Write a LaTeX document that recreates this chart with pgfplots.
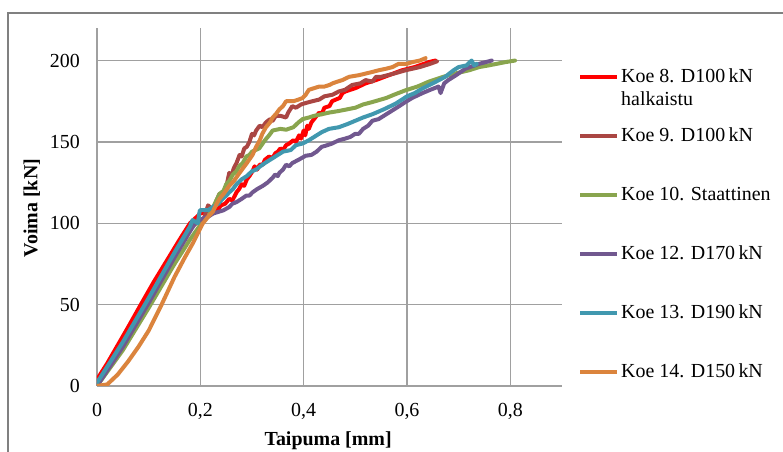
\documentclass[border=0pt]{standalone}
\usepackage{fontspec}
\setmainfont{Liberation Serif}
\usepackage{pgfplots}
\pgfplotsset{compat=1.18}
\definecolor{c8}{RGB}{255,0,0}
\definecolor{c9}{RGB}{170,70,67}
\definecolor{c10}{RGB}{137,165,78}
\definecolor{c12}{RGB}{113,88,143}
\definecolor{c13}{RGB}{65,152,175}
\definecolor{c14}{RGB}{219,132,61}
\definecolor{gridgray}{RGB}{160,160,160}
\definecolor{framegray}{RGB}{128,128,128}

\begin{document}
\begin{tikzpicture}[x=1bp,y=1bp]
\begin{axis}[
    at={(0,0)}, anchor=south west,
    scale only axis,
    width=465bp, height=358bp,
    xmin=0, xmax=0.9, ymin=0, ymax=220,
    xtick={0,0.2,0.4,0.6,0.8},
    ytick={0,50,100,150,200},
    axis lines*=left,
    axis line style={-, draw=gridgray, line width=1.2bp},
    grid=major,
    major grid style={draw=gridgray, line width=1.2bp},
    major tick length=0pt,
    font=\fontsize{20}{24}\selectfont,
    /pgf/number format/assume math mode=true,
    /pgf/number format/use comma,
    /pgf/number format/fixed,
    xticklabel style={anchor=north, inner sep=0pt, yshift=-17bp},
    yticklabel style={anchor=east, inner sep=0pt, xshift=-17bp},
    xlabel={\bfseries Taipuma [mm]},
    ylabel={\bfseries Voima [kN]},
    xlabel style={at={(axis description cs:0.497,-0.154)}, anchor=center},
    ylabel style={at={(axis description cs:-0.14,0.497)}, anchor=center},
    every axis plot/.append style={line width=4bp, line join=round, line cap=round},
    legend cell align=left,
    legend image code/.code={\draw[#1, line width=4bp, line cap=butt] (0bp,0bp) -- (37bp,0bp);},
    legend style={draw=none, fill=none, at={(1.0344,0.888)}, anchor=north west,
        inner sep=0pt, row sep=41bp, column sep=2bp,
        font=\fontsize{20}{24}\selectfont,
        nodes={inner sep=0pt, text height=14bp, text depth=4bp}},
]
\addplot[c8] coordinates {
(0,4) (0.02,14) (0.04,25) (0.06,36) (0.083,49) (0.11,64) (0.137,78) (0.16,90)
(0.18,100) (0.2,106) (0.22,108) (0.23,107) (0.24,111) (0.248,112) (0.256,115)
(0.262,114) (0.27,119) (0.275,121) (0.28,124) (0.285,123) (0.29,127) (0.295,129)
(0.301,132) (0.305,135) (0.31,133) (0.315,136) (0.321,136) (0.325,139) (0.333,141)
(0.34,140) (0.345,143) (0.35,144) (0.355,146) (0.36,145) (0.366,148) (0.372,149)
(0.38,151) (0.385,150) (0.391,154) (0.395,152) (0.4,157) (0.403,154) (0.407,160)
(0.41,158) (0.415,162) (0.42,164) (0.425,166) (0.43,168) (0.435,167) (0.44,171)
(0.45,172) (0.455,175) (0.462,176) (0.47,177) (0.475,180) (0.481,181) (0.49,182)
(0.5,183) (0.52,186) (0.54,188) (0.565,191) (0.59,194) (0.615,196) (0.642,199) (0.655,200)
};
\addlegendentry{\makebox[0pt][l]{\raisebox{-23bp}[0pt][0pt]{halkaistu}}Koe 8. D100\,kN}
\addplot[c9] coordinates {
(0,1) (0.05,26) (0.1,53) (0.15,81) (0.18,97) (0.2,102) (0.205,101) (0.215,111)
(0.225,108) (0.23,113) (0.237,118) (0.244,117) (0.25,122) (0.256,131) (0.26,129)
(0.265,134) (0.27,137) (0.276,142) (0.28,141) (0.285,146) (0.29,147) (0.295,150)
(0.3,155) (0.304,154) (0.308,157) (0.315,160) (0.32,159) (0.327,162) (0.335,164)
(0.34,163) (0.346,166) (0.355,166) (0.366,165) (0.37,168) (0.378,172) (0.385,171)
(0.395,173) (0.405,174) (0.417,175) (0.43,176) (0.44,178) (0.456,179) (0.468,181)
(0.48,182) (0.494,185) (0.51,186) (0.52,188) (0.533,187) (0.54,190) (0.55,190)
(0.575,192) (0.597,194) (0.625,196) (0.645,198) (0.658,199.5)
};
\addlegendentry{Koe 9. D100\,kN}
\addplot[c10] coordinates {
(0,0) (0.05,22) (0.1,48) (0.15,75) (0.18,90) (0.2,99) (0.215,104) (0.225,110)
(0.237,118) (0.245,120) (0.25,124) (0.256,126) (0.263,130) (0.27,132) (0.275,135)
(0.282,137) (0.289,141) (0.295,142) (0.3,144) (0.314,146) (0.325,151) (0.333,154)
(0.34,157) (0.355,158) (0.366,157.5) (0.38,159) (0.39,162) (0.398,164) (0.41,165)
(0.42,166) (0.435,167) (0.449,168) (0.468,169) (0.5,171) (0.515,173) (0.533,174.5)
(0.56,177) (0.575,179) (0.597,181.7) (0.62,184) (0.642,187) (0.67,190) (0.693,192)
(0.72,194) (0.74,196) (0.758,197) (0.79,199) (0.809,200)
};
\addlegendentry{Koe 10. Staattinen}
\addplot[c12] coordinates {
(0,0) (0.05,24) (0.1,51) (0.15,79) (0.18,95) (0.19,100) (0.205,103) (0.215,104)
(0.225,106) (0.235,107) (0.245,108) (0.256,110) (0.262,112) (0.27,113) (0.28,115)
(0.289,117) (0.295,117) (0.301,119) (0.31,121) (0.321,123) (0.33,125) (0.34,128)
(0.345,130) (0.35,129) (0.353,131) (0.36,133) (0.366,136) (0.372,135) (0.378,137)
(0.39,139) (0.404,141.5) (0.415,142) (0.425,144) (0.435,147) (0.443,147.7) (0.455,149)
(0.468,151) (0.48,152) (0.49,153) (0.5,155) (0.507,155) (0.515,158) (0.525,160)
(0.533,163) (0.545,164) (0.56,167) (0.575,170) (0.585,172) (0.597,174.5) (0.61,177)
(0.63,180) (0.645,182) (0.661,184) (0.665,180) (0.672,186) (0.68,188) (0.695,191)
(0.713,195) (0.74,198) (0.764,200)
};
\addlegendentry{Koe 12. D170\,kN}
\addplot[c13] coordinates {
(0,2) (0.05,27) (0.1,54) (0.15,82) (0.18,98) (0.185,102) (0.195,100) (0.199,108)
(0.215,108) (0.224,110) (0.235,112) (0.243,115) (0.25,117) (0.256,119) (0.263,121)
(0.27,124) (0.28,127) (0.29,129) (0.3,132) (0.308,133) (0.316,135) (0.325,137)
(0.34,140) (0.35,142) (0.36,144) (0.375,145) (0.385,148) (0.398,149) (0.41,151)
(0.42,153) (0.435,156) (0.449,158) (0.468,159) (0.485,161) (0.5,163) (0.515,165)
(0.533,167) (0.555,170) (0.578,173.5) (0.6,178) (0.615,180) (0.629,182.7) (0.65,186)
(0.674,190) (0.69,194) (0.7,196) (0.715,197) (0.725,200) (0.73,197) (0.735,198)
};
\addlegendentry{Koe 13. D190\,kN}
\addplot[c14] coordinates {
(0,0) (0.02,1) (0.04,7) (0.06,15) (0.08,24) (0.1,34) (0.125,50) (0.15,67) (0.17,79)
(0.186,88) (0.2,97) (0.205,100) (0.21,102) (0.215,104) (0.224,107) (0.23,111)
(0.237,115) (0.245,118) (0.256,123) (0.265,126) (0.276,131) (0.283,134) (0.29,137)
(0.301,142) (0.308,147) (0.315,151) (0.32,155) (0.327,159) (0.335,162) (0.34,165)
(0.346,167) (0.353,170) (0.36,172) (0.366,175) (0.38,175) (0.39,176) (0.398,177)
(0.404,179) (0.41,182) (0.42,183) (0.43,184) (0.44,184) (0.45,185) (0.456,186)
(0.465,187) (0.475,188) (0.488,190) (0.507,191) (0.52,192) (0.533,193) (0.545,194)
(0.56,195) (0.572,196) (0.584,198) (0.6,198) (0.61,199) (0.625,200) (0.636,201.5)
};
\addlegendentry{Koe 14. D150\,kN}
\end{axis}
\draw[framegray, line width=2bp] (-89,-120) -- (-89,373) -- (760,373);
\pgfresetboundingbox
\path[use as bounding box] (-97,-66) rectangle (686,386);
\end{tikzpicture}
\end{document}
